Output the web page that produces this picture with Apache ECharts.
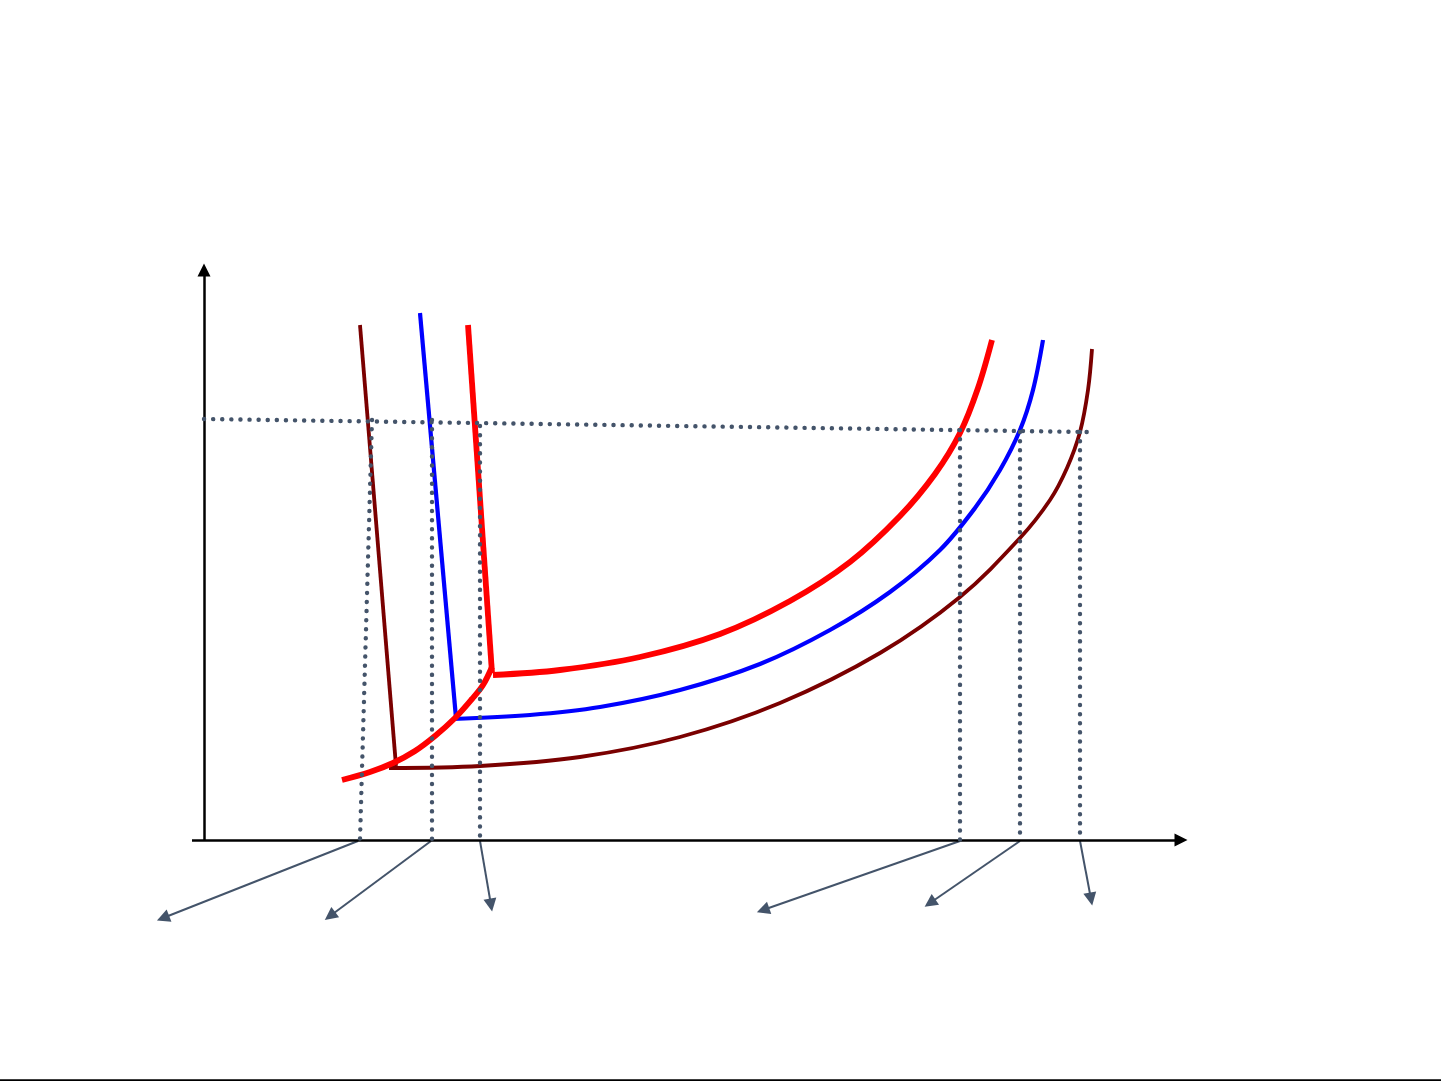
<!DOCTYPE html>
<html>
<head>
<meta charset="utf-8">
<script src="https://cdn.jsdelivr.net/npm/echarts@6/dist/echarts.min.js"></script>
<style>
html,body{margin:0;padding:0;background:#fff;}
#chart{width:1441px;height:1081px;}
</style>
</head>
<body>
<div id="chart"></div>
<script>
// Data space: origin at the drawn axes' origin, x to the right, y upwards.
var xRange = [-204, 1237];
var yRange = [-241, 840];

// Red characteristic
var redSteep = [[264, 515], [288, 167]];
var redCurve = [[289, 165], [356, 170], [436, 183], [516, 206], [586, 239], [646, 278], [696, 324], [731, 366], [756, 407], [774, 452], [788, 500]];
var redLowerLeft = [[138, 60], [166, 68], [189, 77], [211, 89], [231, 104], [251, 122], [268, 141], [279, 155], [288, 173]];

// Blue characteristic
var blueSteep = [[216, 527], [252, 122]];
var blueCurve = [[249, 121], [326, 125], [396, 133], [476, 150], [556, 176], [626, 210], [686, 248], [736, 290], [771, 332], [796, 370], [816, 410], [829, 450], [839, 500]];

// Dark red characteristic
var darkSteep = [[156, 515], [192, 74]];
var darkCurve = [[185, 72], [276, 74], [376, 83], [476, 103], [576, 137], [676, 187], [756, 243], [816, 302], [846, 340], [863, 372], [876, 408], [884, 450], [888, 491]];

// Dotted reference lines
var dottedHorizontal = [[0, 421], [883, 408]];
var dottedVerticals = [
  [[168, 420], [156, 0]],
  [[228, 420], [228, 0]],
  [[276, 414], [276, 0]],
  [[756, 410], [756, 0]],
  [[816, 408], [816, 0]],
  [[876, 408], [876, 0]]
];

// Pointer arrows below the x axis (start, arrowhead centre)
var pointerArrows = [
  [[154, -1], [-41, -78]],
  [[227, -1], [126, -76]],
  [[276, -1], [287, -65]],
  [[756, -1], [559, -70]],
  [[816, -1], [726, -63]],
  [[876, -1], [887, -59]]
];

// Axes (start, arrowhead centre) and frame
var yAxisLine = [[0, 0], [0, 570]];
var xAxisLine = [[-12, 0], [977, 0]];
var bottomBorder = [[-204, -240], [1237, -240]];

var RED = '#FF0000', BLUE = '#0000FF', DARK = '#7A0000', SLATE = '#44546A';

function curve(data, color, width, smooth) {
  return {
    type: 'line', data: data, showSymbol: false, symbol: 'none',
    smooth: smooth, clip: false, silent: true,
    lineStyle: { color: color, width: width, cap: 'butt', join: 'miter' }
  };
}
function dotted(data) {
  return {
    type: 'line', data: data, showSymbol: false, symbol: 'none',
    clip: false, silent: true, z: 3,
    lineStyle: { color: SLATE, width: 4.4, type: [0.1, 9], cap: 'round' }
  };
}

var series = [
  curve(darkSteep, DARK, 3.8, false),
  curve(darkCurve, DARK, 3.8, 0.35),
  curve(blueSteep, BLUE, 4.2, false),
  curve(blueCurve, BLUE, 4.2, 0.35),
  curve(redLowerLeft, RED, 5.8, 0.35),
  curve(redSteep, RED, 5.8, false),
  curve(redCurve, RED, 5.8, 0.35),
  dotted(dottedHorizontal)
].concat(dottedVerticals.map(dotted)).concat([
  {
    type: 'lines', coordinateSystem: 'cartesian2d', silent: true, clip: false,
    data: pointerArrows.map(function (c) { return { coords: c }; }),
    lineStyle: { color: SLATE, width: 2, opacity: 1 },
    symbol: ['none', 'triangle'], symbolSize: [12, 13]
  },
  {
    type: 'lines', coordinateSystem: 'cartesian2d', silent: true, clip: false,
    data: [{ coords: yAxisLine }, { coords: xAxisLine }],
    lineStyle: { color: '#000', width: 2.5, opacity: 1 },
    symbol: ['none', 'triangle'], symbolSize: [12, 13]
  },
  {
    type: 'lines', coordinateSystem: 'cartesian2d', silent: true, clip: false,
    data: [{ coords: bottomBorder }],
    lineStyle: { color: '#000', width: 2.5, opacity: 1 },
    symbol: 'none'
  }
]);

var chart = echarts.init(document.getElementById('chart'), null, { renderer: 'canvas' });
chart.setOption({
  animation: false,
  backgroundColor: '#ffffff',
  grid: { left: 0, right: 0, top: 0, bottom: 0, containLabel: false },
  xAxis: { type: 'value', min: xRange[0], max: xRange[1], show: false, splitLine: { show: false } },
  yAxis: { type: 'value', min: yRange[0], max: yRange[1], show: false, splitLine: { show: false } },
  series: series
});
</script>
</body>
</html>
